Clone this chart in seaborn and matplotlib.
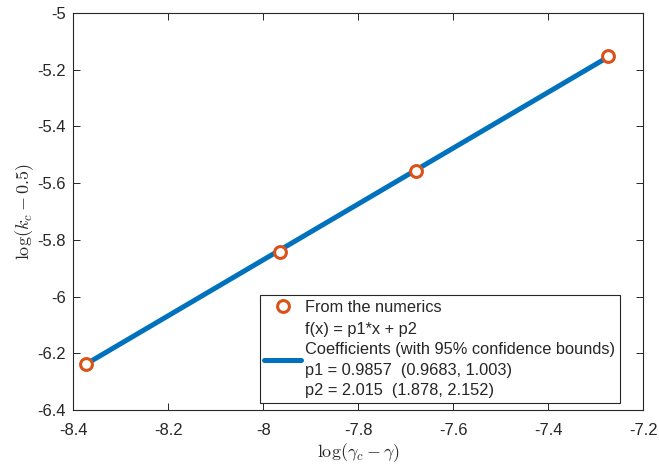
import numpy as np
import pandas as pd
import matplotlib
matplotlib.use("Agg")
import matplotlib.pyplot as plt
import seaborn as sns

# datos
x_num = [-8.3726, -7.964, -7.678, -7.274]
y_num = [-6.238, -5.843, -5.557, -5.152]
p1 = 0.9857
p2 = 2.015

etiqueta_puntos = "From the numerics"
etiqueta_ajuste = ("f(x) = p1*x + p2\n"
                   "Coefficients (with 95% confidence bounds)\n"
                   "p1 = 0.9857  (0.9683, 1.003)\n"
                   "p2 = 2.015  (1.878, 2.152)")

sns.set_style("ticks")
plt.rcParams['font.family'] = ['Liberation Sans', 'DejaVu Sans']
plt.rcParams['mathtext.fontset'] = 'cm'

df = pd.DataFrame({"x": x_num, "y": y_num})
df["ajuste"] = p1 * df["x"] + p2

fig, ax = plt.subplots(figsize=(6.59, 4.68), dpi=100)
fig.subplots_adjust(left=0.111, right=0.976, top=0.972, bottom=0.124)

sns.lineplot(data=df, x="x", y="ajuste", ax=ax, color="#0072BD", linewidth=3.6,
             label=etiqueta_ajuste, zorder=2)
ax.plot(df["x"], df["y"], linestyle="none", marker="o", markersize=8.5,
        markerfacecolor="white", markeredgecolor="#D95319", markeredgewidth=2.2,
        label=etiqueta_puntos, zorder=3)

ax.set_xlim(-8.4, -7.2)
ax.set_ylim(-6.4, -5)
ax.set_xticks(np.arange(-8.4, -7.19, 0.2))
ax.set_yticks(np.arange(-6.4, -4.99, 0.2))
ax.set_xticklabels(["-8.4", "-8.2", "-8", "-7.8", "-7.6", "-7.4", "-7.2"])
ax.set_yticklabels(["-6.4", "-6.2", "-6", "-5.8", "-5.6", "-5.4", "-5.2", "-5"])
ax.tick_params(direction="in", top=True, right=True, labelsize=12, length=5,
               width=0.7, colors="#262626")
ax.tick_params(axis="x", pad=9.5)
ax.tick_params(axis="y", pad=5)
for s in ax.spines.values():
    s.set_linewidth(0.8)
    s.set_color("#262626")

ax.set_xlabel(r"$\log(\gamma_c-\gamma)$", fontsize=13, labelpad=2)
ax.set_ylabel(r"$\log(k_c-0.5)$", fontsize=13, labelpad=1)

h, l = ax.get_legend_handles_labels()
leg = ax.legend(h[::-1], l[::-1], loc="lower right", bbox_to_anchor=(0.96, 0.018),
                fontsize=11.8, frameon=True, fancybox=False, framealpha=1,
                edgecolor="#262626", handlelength=2.2, borderpad=0.3,
                labelspacing=0.4, handletextpad=0.3, borderaxespad=0.0)
leg.get_frame().set_linewidth(0.8)
for t in leg.get_texts():
    t.set_linespacing(1.45)

plt.savefig("out.png", dpi=100)
